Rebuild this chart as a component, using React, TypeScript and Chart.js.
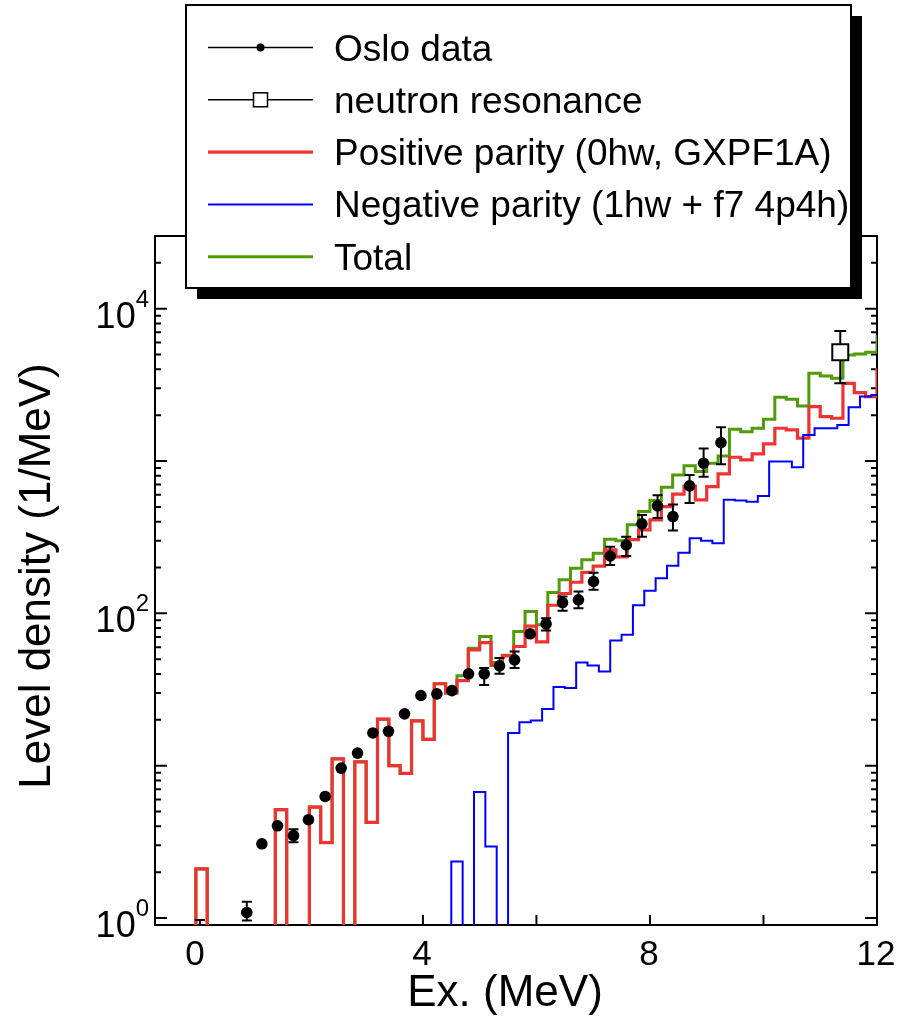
import React, { useEffect, useRef } from 'react';
import { Chart, registerables } from 'chart.js';

Chart.register(...registerables);

// ---------------- data ----------------
const BIN_WIDTH = 0.2;
const EMPTY_FLOOR = 1e-3; // empty bins are drawn below the axis

const POSITIVE_START = 0.0;
const POSITIVE_VALUES = [
  2.1, 0, 0, 0, 0, 0, 0, 5.14, 0, 0, 5.35, 3.13, 11.1, 0, 10.6, 4.24, 20.2, 10.0, 8.9, 19.7,
  14.9, 34.5, 29.9, 36.2, 57.6, 64.3, 45.5, 52.6, 60.6, 82.5, 65, 113, 135, 160, 186, 204,
  261, 235, 305, 353, 411, 502, 607, 684, 556, 680, 823, 1059, 1017, 1113, 1295, 1641, 1600,
  1412, 2275, 1955, 1909, 3238, 2810, 2650, 4064,
];

const NEGATIVE_START = 4.5;
const NEGATIVE_VALUES = [
  2.35, 0, 6.71, 2.95, 0, 16.4, 19.3, 19.8, 23.6, 32.8, 32.4, 47.6, 45.5, 41.5, 66.3, 72.3,
  113, 140.5, 170, 205, 250, 311, 300, 289, 556, 551, 541, 590, 991, 991, 911, 1483, 1641,
  1641, 1726, 2254, 2647, 2716,
];

const TOTAL_START = 0.0;
const TOTAL_VALUES = [
  2.1, 0, 0, 0, 0, 0, 0, 5.14, 0, 0, 5.35, 3.13, 11.1, 0, 10.6, 4.24, 20.2, 10.0, 8.9, 19.7,
  14.9, 34.5, 30.8, 38.9, 59, 70.4, 47.6, 53, 76, 102.8, 84.1, 137, 166, 198, 225, 248, 307,
  300, 381, 466, 550, 673, 811, 931, 853, 967, 1080, 1617, 1559, 1641, 1880, 2622, 2545, 2300,
  3767, 3615, 3490, 4966, 5045, 5175, 6718,
];

const OSLO_X = [
  0.07, 0.897, 1.163, 1.438, 1.72, 1.984, 2.278, 2.56, 2.848, 3.119, 3.394, 3.676, 3.965, 4.246,
  4.511, 4.804, 5.08, 5.35, 5.615, 5.89, 6.17, 6.46, 6.74, 7.006, 7.3, 7.582, 7.859, 8.134,
  8.405, 8.698, 8.945, 9.251,
];
const OSLO_Y = [
  0.75, 1.088, 3.07, 4.03, 3.48, 4.42, 6.28, 9.64, 12.1, 16.4, 16.8, 21.9, 28.9, 29.6, 31.1,
  40.1, 40.1, 45.2, 49.5, 73.4, 85.3, 117.7, 122.7, 161.8, 238, 281, 387, 508, 432, 687, 967,
  1321,
];
const OSLO_LOW = [
  0.55, 0.964, null, null, 3.14, null, null, null, null, null, null, null, null, null, null,
  null, 33.9, 40.1, 43.7, null, 77.3, 104, 108, 143, 208, 238, 318, 423, 350, 530, 789, 954,
];
const OSLO_HIGH = [
  0.97, 1.28, null, null, 3.83, null, null, null, null, null, null, null, null, null, null,
  null, 43.7, 50.9, 56.2, null, 93.0, 129, 139, 185, 274, 318, 443, 596, 518, 810, 1209, 1663,
];

const NEUTRON_X = [11.353];
const NEUTRON_Y = [5175];
const NEUTRON_LOW = [3238];
const NEUTRON_HIGH = [7140];

const X_MIN = -0.72;
const X_MAX = 12;
const Y_MIN = 0.9;
const Y_MAX = 30000;
const X_TICKS = [0, 2, 4, 6, 8, 10, 12];
const X_TICK_LABELS = [0, 4, 8, 12];
const Y_LABEL_DECADES = [0, 2, 4];

const LABEL_OSLO = 'Oslo data';
const LABEL_NEUTRON = 'neutron resonance';
const LABEL_POS = 'Positive parity (0hw, GXPF1A)';
const LABEL_NEG = 'Negative parity (1hw + f7 4p4h)';
const LABEL_TOTAL = 'Total';

const X_TITLE = 'Ex. (MeV)';
const Y_TITLE = 'Level density (1/MeV)';

const RED = '#EE3333';
const BLUE = '#0000FF';
const GREEN = '#4F9B0A';

const FONT = '"Liberation Sans", Arial, Helvetica, sans-serif';

// ---------------- helpers ----------------
function histPoints(start: number, values: number[]) {
  const pts: { x: number; y: number }[] = [{ x: start, y: EMPTY_FLOOR }];
  values.forEach((v, i) => {
    pts.push({ x: +(start + i * BIN_WIDTH).toFixed(4), y: v > 0 ? v : EMPTY_FLOOR });
  });
  const last = values[values.length - 1];
  pts.push({ x: +(start + values.length * BIN_WIDTH).toFixed(4), y: last > 0 ? last : EMPTY_FLOOR });
  return pts;
}

function drawErrorBars(chart: any, errs: any[], cap: number) {
  const { ctx, chartArea: a, scales } = chart;
  const xs = scales.x;
  const ys = scales.y;
  ctx.save();
  ctx.beginPath();
  ctx.rect(a.left, a.top, a.right - a.left, a.bottom - a.top);
  ctx.clip();
  ctx.strokeStyle = '#000';
  ctx.lineWidth = 2;
  errs.forEach((e) => {
    if (e.low == null || e.high == null) return;
    const px = xs.getPixelForValue(e.x);
    const p1 = ys.getPixelForValue(e.low);
    const p2 = ys.getPixelForValue(e.high);
    ctx.beginPath();
    ctx.moveTo(px, p1);
    ctx.lineTo(px, p2);
    ctx.moveTo(px - cap, p1);
    ctx.lineTo(px + cap, p1);
    ctx.moveTo(px - cap, p2);
    ctx.lineTo(px + cap, p2);
    ctx.stroke();
  });
  ctx.restore();
}

const decoPlugin = {
  id: 'deco',
  beforeDatasetsDraw(chart: any) {
    const { ctx, chartArea: a, scales } = chart;
    const xs = scales.x;
    const ys = scales.y;
    ctx.save();
    ctx.strokeStyle = '#000';
    ctx.fillStyle = '#000';
    ctx.lineWidth = 2;
    ctx.strokeRect(a.left, a.top, a.right - a.left, a.bottom - a.top);

    // x ticks
    ctx.beginPath();
    X_TICKS.forEach((v) => {
      const px = xs.getPixelForValue(v);
      ctx.moveTo(px, a.bottom);
      ctx.lineTo(px, a.bottom - 10);
      ctx.moveTo(px, a.top);
      ctx.lineTo(px, a.top + 10);
    });
    // y ticks
    for (let d = -1; d <= 4; d++) {
      for (let k = 1; k <= 9; k++) {
        const v = k * Math.pow(10, d);
        if (v <= Y_MIN * 1.0001 || v >= Y_MAX) continue;
        const py = ys.getPixelForValue(v);
        const len = k === 1 ? 12 : 6;
        ctx.moveTo(a.left, py);
        ctx.lineTo(a.left + len, py);
        ctx.moveTo(a.right, py);
        ctx.lineTo(a.right - len, py);
      }
    }
    ctx.stroke();

    // x tick labels
    ctx.font = `35px ${FONT}`;
    ctx.textAlign = 'center';
    ctx.textBaseline = 'alphabetic';
    X_TICK_LABELS.forEach((v) => {
      ctx.fillText(String(v), xs.getPixelForValue(v) - 1, a.bottom + 40);
    });

    // y tick labels 10^n
    Y_LABEL_DECADES.forEach((d) => {
      const py = ys.getPixelForValue(Math.pow(10, d));
      const exp = String(d);
      ctx.font = `24px ${FONT}`;
      const wExp = ctx.measureText(exp).width;
      ctx.font = `36px ${FONT}`;
      const wBase = ctx.measureText('10').width;
      const right = a.left - 6;
      ctx.textAlign = 'left';
      ctx.fillText('10', right - wExp - wBase, py + 19);
      ctx.font = `24px ${FONT}`;
      ctx.fillText(exp, right - wExp, py - 2);
    });

    // axis titles
    ctx.font = `44px ${FONT}`;
    ctx.textAlign = 'center';
    ctx.fillText(X_TITLE, (a.left + a.right) / 2 - 11, a.bottom + 81);
    ctx.save();
    ctx.translate(50, 576);
    ctx.rotate(-Math.PI / 2);
    ctx.fillText(Y_TITLE, 0, 0);
    ctx.restore();
    ctx.restore();
  },
  beforeDatasetDraw(chart: any, args: any) {
    const ds = chart.data.datasets[args.index];
    if (ds.errorBars) drawErrorBars(chart, ds.errorBars, ds.errorCap || 5);
  },
  afterDraw(chart: any) {
    const { ctx } = chart;
    const bx = 186;
    const by = 5;
    const bw = 665;
    const bh = 283;
    ctx.save();
    ctx.fillStyle = '#000';
    ctx.fillRect(bx + 11, by + 11, bw, bh);
    ctx.fillStyle = '#fff';
    ctx.fillRect(bx, by, bw, bh);
    ctx.strokeStyle = '#000';
    ctx.lineWidth = 2;
    ctx.strokeRect(bx, by, bw, bh);

    const order = [LABEL_OSLO, LABEL_NEUTRON, LABEL_POS, LABEL_NEG, LABEL_TOTAL];
    const rowY = [47.5, 99.8, 152.1, 204.4, 256.7];
    const x0 = 208;
    const x1 = 313;
    const xm = (x0 + x1) / 2;
    order.forEach((label, i) => {
      const ds = chart.data.datasets.find((d: any) => d.label === label);
      const y = rowY[i];
      ctx.beginPath();
      ctx.moveTo(x0, y);
      ctx.lineTo(x1, y);
      if (ds.showLine === false) {
        ctx.strokeStyle = '#000';
        ctx.lineWidth = 1.5;
      } else {
        ctx.strokeStyle = ds.borderColor;
        ctx.lineWidth = ds.borderWidth;
      }
      ctx.stroke();
      if (label === LABEL_OSLO) {
        ctx.fillStyle = '#000';
        ctx.beginPath();
        ctx.arc(xm, y, 4, 0, Math.PI * 2);
        ctx.fill();
      } else if (label === LABEL_NEUTRON) {
        ctx.fillStyle = '#fff';
        ctx.fillRect(xm - 7, y - 7, 14, 14);
        ctx.strokeStyle = '#000';
        ctx.lineWidth = 1.5;
        ctx.strokeRect(xm - 7, y - 7, 14, 14);
      }
      ctx.fillStyle = '#000';
      ctx.font = `37px ${FONT}`;
      ctx.textAlign = 'left';
      ctx.textBaseline = 'alphabetic';
      ctx.fillText(label, 334, y + 13);
    });
    ctx.restore();
  },
};

export default function App() {
  const canvasRef = useRef<HTMLCanvasElement | null>(null);

  useEffect(() => {
    if (!canvasRef.current) return;
    const osloPts = OSLO_X.map((x, i) => ({ x, y: OSLO_Y[i] }));
    const osloErr = OSLO_X.map((x, i) => ({ x, low: OSLO_LOW[i], high: OSLO_HIGH[i] }));
    const neutronPts = NEUTRON_X.map((x, i) => ({ x, y: NEUTRON_Y[i] }));
    const neutronErr = NEUTRON_X.map((x, i) => ({ x, low: NEUTRON_LOW[i], high: NEUTRON_HIGH[i] }));

    const chart = new Chart(canvasRef.current, {
      type: 'line',
      data: {
        datasets: [
          {
            label: LABEL_OSLO,
            data: osloPts,
            showLine: false,
            pointRadius: 5.8,
            pointBackgroundColor: '#000',
            pointBorderWidth: 0,
            borderColor: '#000',
            order: 0,
            errorBars: osloErr,
            errorCap: 5,
          } as any,
          {
            label: LABEL_NEUTRON,
            data: neutronPts,
            showLine: false,
            pointStyle: 'rect',
            pointRadius: 11.3,
            pointBackgroundColor: '#fff',
            pointBorderColor: '#000',
            pointBorderWidth: 2,
            borderColor: '#000',
            order: 1,
            errorBars: neutronErr,
            errorCap: 6,
          } as any,
          {
            label: LABEL_NEG,
            data: histPoints(NEGATIVE_START, NEGATIVE_VALUES),
            stepped: true,
            borderColor: BLUE,
            borderWidth: 2,
            pointRadius: 0,
            fill: false,
            order: 2,
          },
          {
            label: LABEL_POS,
            data: histPoints(POSITIVE_START, POSITIVE_VALUES),
            stepped: true,
            borderColor: RED,
            borderWidth: 3.2,
            pointRadius: 0,
            fill: false,
            order: 3,
          },
          {
            label: LABEL_TOTAL,
            data: histPoints(TOTAL_START, TOTAL_VALUES),
            stepped: true,
            borderColor: GREEN,
            borderWidth: 3,
            pointRadius: 0,
            fill: false,
            order: 4,
          },
        ],
      },
      options: {
        responsive: false,
        maintainAspectRatio: false,
        animation: false,
        devicePixelRatio: 1,
        layout: { padding: { top: 236, right: 30, left: 0, bottom: 0 } },
        plugins: { legend: { display: false }, tooltip: { enabled: false }, title: { display: false } },
        scales: {
          x: {
            type: 'linear',
            min: X_MIN,
            max: X_MAX,
            ticks: { display: false },
            grid: { display: false },
            border: { display: false },
            afterFit: (s: any) => {
              s.height = 92;
            },
          },
          y: {
            type: 'logarithmic',
            min: Y_MIN,
            max: Y_MAX,
            ticks: { display: false },
            grid: { display: false },
            border: { display: false },
            afterFit: (s: any) => {
              s.width = 155;
            },
          },
        },
      },
      plugins: [decoPlugin],
    } as any);

    return () => chart.destroy();
  }, []);

  return (
    <div style={{ position: 'absolute', left: 0, top: 0, width: 907, height: 1017, overflow: 'hidden', background: '#fff' }}>
      <canvas ref={canvasRef} width={907} height={1017} style={{ display: 'block' }} />
    </div>
  );
}
